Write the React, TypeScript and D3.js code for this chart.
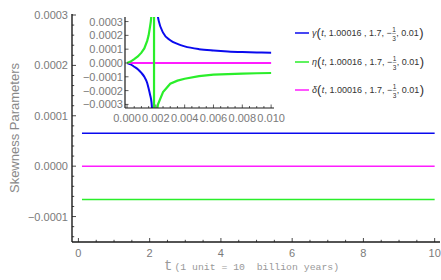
import React, { useEffect, useRef } from "react";
import * as d3 from "d3";

// ---------- data ----------
const mainT = [0.1, 2, 4, 6, 8, 10];
const mainGamma = [6.55e-5, 6.55e-5, 6.55e-5, 6.55e-5, 6.55e-5, 6.55e-5];
const mainEta = [-6.63e-5, -6.63e-5, -6.63e-5, -6.63e-5, -6.63e-5, -6.63e-5];
const mainDelta = [0, 0, 0, 0, 0, 0];

const insetGammaT = [0, 0.00025, 0.0005, 0.00075, 0.001, 0.0012, 0.0014, 0.0015, 0.0016, 0.0017, 0.00175, NaN,
  0.0021, 0.0022, 0.0025, 0.003, 0.0035, 0.004, 0.005, 0.006, 0.007, 0.008, 0.009, 0.01];
const insetGammaV = [0, -1.0e-5, -2.7e-5, -4.5e-5, -7.2e-5, -1.0e-4, -1.45e-4, -1.85e-4, -2.3e-4, -2.85e-4, -3.5e-4, NaN,
  3.6e-4, 3.05e-4, 2.2e-4, 1.65e-4, 1.38e-4, 1.2e-4, 1.0e-4, 9.0e-5, 8.3e-5, 7.9e-5, 7.65e-5, 7.5e-5];

const insetEtaT = [0, 0.00025, 0.0005, 0.00075, 0.001, 0.0012, 0.0014, 0.0015, 0.0016, 0.00165, 0.0017,
  0.001875, 0.001875, 0.002, 0.0021, 0.00215, 0.0025, 0.003, 0.0035, 0.004, 0.005, 0.006, 0.007, 0.008, 0.009, 0.01];
const insetEtaV = [0, 1.0e-5, 2.8e-5, 4.7e-5, 7.5e-5, 1.05e-4, 1.6e-4, 2.0e-4, 2.65e-4, 3.0e-4, 3.5e-4,
  4.0e-3, -4.0e-3, -4.5e-4, -3.3e-4, -3.0e-4, -2.1e-4, -1.5e-4, -1.28e-4, -1.14e-4, -9.5e-5, -8.5e-5, -8.0e-5, -7.7e-5, -7.45e-5, -7.25e-5];

const insetDeltaT = [0, 0.0025, 0.005, 0.0075, 0.01];
const insetDeltaV = [0, 0, 0, 0, 0];

const mainXTicks = [0, 2, 4, 6, 8, 10];
const mainYTicks = [-0.0001, 0, 0.0001, 0.0002, 0.0003];
const mainYTickLabels = ["−0.0001", "0.0000", "0.0001", "0.0002", "0.0003"];
const insetXTicks = [0, 0.002, 0.004, 0.006, 0.008, 0.01];
const insetXTickLabels = ["0.000", "0.002", "0.004", "0.006", "0.008", "0.010"];
const insetYTicks = [-0.0003, -0.0002, -0.0001, 0, 0.0001, 0.0002, 0.0003];
const insetYTickLabels = ["−0.0003", "−0.0002", "−0.0001", "0.0000", "0.0001", "0.0002", "0.0003"];

const seriesNames = ["γ", "η", "δ"];
const colors = ["#0a0aee", "#2aee2a", "#ff1cff"];

const W = 441;
const H = 280;

export default function App() {
  const ref = useRef<SVGSVGElement | null>(null);

  useEffect(() => {
    const svg = d3.select(ref.current);
    svg.selectAll("*").remove();
    const font = "'Liberation Sans', Arial, sans-serif";
    const gray = "#7a7a7a";
    const axisColor = "#1a1a1a";

    // ---------- main plot ----------
    const x = d3.scaleLinear().domain([-0.18, 10.15]).range([72, 440]);
    const y = d3.scaleLinear().domain([-0.0001505, 0.000302]).range([242, 14]);

    const g = svg.append("g");
    const mains = [mainGamma, mainEta, mainDelta];
    mains.forEach((vals, i) => {
      const line = d3.line<number>().x((_, j) => x(mainT[j])).y((v) => y(v));
      g.append("path").attr("d", line(vals) as string).attr("fill", "none")
        .attr("stroke", colors[i]).attr("stroke-width", 1.5);
    });

    // axes
    g.append("line").attr("x1", 72).attr("x2", 72).attr("y1", y.range()[1]).attr("y2", 242)
      .attr("stroke", axisColor).attr("stroke-width", 1.4);
    g.append("line").attr("x1", 72).attr("x2", x.range()[1]).attr("y1", 242).attr("y2", 242)
      .attr("stroke", axisColor).attr("stroke-width", 1.4);

    const xMinor = d3.range(0, 10.01, 0.5);
    xMinor.forEach((t) => {
      const major = Math.abs(t - Math.round(t / 2) * 2) < 1e-9;
      g.append("line").attr("x1", x(t)).attr("x2", x(t)).attr("y1", 242).attr("y2", 242 - (major ? 4 : 2.2))
        .attr("stroke", axisColor).attr("stroke-width", 0.8);
    });
    mainXTicks.forEach((t) => {
      g.append("text").attr("x", x(t)).attr("y", 257).attr("text-anchor", "middle")
        .attr("font-family", font).attr("font-size", 11).attr("fill", gray).text(String(t));
    });
    const yMinor = d3.range(-0.00014, 0.0003001, 0.00002);
    yMinor.forEach((v) => {
      const major = Math.abs(v / 0.0001 - Math.round(v / 0.0001)) < 1e-6;
      g.append("line").attr("x1", 72).attr("x2", 72 + (major ? 4 : 2.2)).attr("y1", y(v)).attr("y2", y(v))
        .attr("stroke", axisColor).attr("stroke-width", 0.8);
    });
    mainYTicks.forEach((v, i) => {
      g.append("text").attr("x", 68).attr("y", y(v) + 4).attr("text-anchor", "end")
        .attr("font-family", font).attr("font-size", 11).attr("fill", gray).text(mainYTickLabels[i]);
    });

    // axis labels
    g.append("text").attr("transform", "translate(19,128) rotate(-90)").attr("text-anchor", "middle")
      .attr("font-family", font).attr("font-size", 13).attr("fill", "#888").text("Skewness Parameters");
    const xl = g.append("text").attr("x", 164).attr("y", 270).attr("fill", "#999")
      .attr("font-family", "'Liberation Mono', 'DejaVu Sans Mono', monospace")
      .style("white-space", "pre");
    xl.append("tspan").attr("font-size", 14).text("t");
    xl.append("tspan").attr("font-size", 9.8).attr("dx", 2).text("(1 unit = 10  billion years)");

    // ---------- inset ----------
    const xi = d3.scaleLinear().domain([-0.00014, 0.0102]).range([125, 274]);
    const yi = d3.scaleLinear().domain([-0.000326, 0.000333]).range([108, 17]);
    const gi = svg.append("g");
    const clipId = "insetClip";
    svg.append("defs").append("clipPath").attr("id", clipId).append("rect")
      .attr("x", 125).attr("y", 17).attr("width", 149).attr("height", 91);

    const insets: [number[], number[]][] = [
      [insetGammaT, insetGammaV],
      [insetDeltaT, insetDeltaV],
      [insetEtaT, insetEtaV],
    ];
    const insetColors = [colors[0], colors[2], colors[1]];
    insets.forEach(([ts, vs], i) => {
      const pts = ts.map((t, j) => [t, vs[j]] as [number, number]);
      const line = d3.line<[number, number]>()
        .defined((d) => !isNaN(d[0]) && !isNaN(d[1]))
        .curve(d3.curveMonotoneX)
        .x((d) => xi(d[0])).y((d) => yi(d[1]));
      const lineLin = d3.line<[number, number]>()
        .defined((d) => !isNaN(d[0]) && !isNaN(d[1]))
        .x((d) => xi(d[0])).y((d) => yi(d[1]));
      gi.append("path").attr("d", (i === 2 ? lineLin(pts) : line(pts)) as string).attr("fill", "none")
        .attr("stroke", insetColors[i]).attr("stroke-width", i === 2 ? 2.2 : 2)
        .attr("clip-path", `url(#${clipId})`);
    });

    gi.append("line").attr("x1", 125).attr("x2", 125).attr("y1", 17).attr("y2", 108)
      .attr("stroke", axisColor).attr("stroke-width", 1.2);
    gi.append("line").attr("x1", 125).attr("x2", 274).attr("y1", 108).attr("y2", 108)
      .attr("stroke", axisColor).attr("stroke-width", 1.2);
    d3.range(0, 0.01001, 0.0005).forEach((t, k) => {
      const major = k % 4 === 0;
      gi.append("line").attr("x1", xi(t)).attr("x2", xi(t)).attr("y1", 108).attr("y2", 108 - (major ? 3.5 : 2))
        .attr("stroke", axisColor).attr("stroke-width", 0.7);
    });
    insetXTicks.forEach((t, i) => {
      gi.append("text").attr("x", xi(t)).attr("y", 122).attr("text-anchor", "middle")
        .attr("font-family", font).attr("font-size", 11).attr("fill", gray).text(insetXTickLabels[i]);
    });
    insetYTicks.forEach((v, i) => {
      gi.append("line").attr("x1", 125).attr("x2", 128.5).attr("y1", yi(v)).attr("y2", yi(v))
        .attr("stroke", axisColor).attr("stroke-width", 0.7);
      gi.append("text").attr("x", 123).attr("y", yi(v) + 4).attr("text-anchor", "end")
        .attr("font-family", font).attr("font-size", 11).attr("fill", gray).text(insetYTickLabels[i]);
    });

    // ---------- legend ----------
    const legendY = [33, 62, 90];
    seriesNames.forEach((name, i) => {
      const ly = legendY[i];
      svg.append("line").attr("x1", 295).attr("x2", 309).attr("y1", ly).attr("y2", ly)
        .attr("stroke", colors[i]).attr("stroke-width", 1.5);
      const base = ly + 3;
      let cx = 312;
      const fs = 9;
      const piece = (txt: string, opts: { size?: number; italic?: boolean; dy?: number; fill?: string } = {}) => {
        const t = svg.append("text").attr("x", cx).attr("y", base + (opts.dy || 0))
          .attr("font-family", font).attr("font-size", opts.size || fs).attr("fill", opts.fill || "#333")
          .attr("font-style", opts.italic ? "italic" : "normal")
          .style("white-space", "pre").text(txt);
        const w = (t.node() as SVGTextElement).getComputedTextLength();
        return { t, w };
      };
      let p = piece(name, { italic: true });
      cx += p.w;
      p = piece("(", { size: 13, dy: 1 });
      cx += p.w + 0.5;
      p = piece("t", { italic: true });
      cx += p.w;
      p = piece(", 1.00016 , 1.7, −", {});
      cx += p.w + 0.5;
      const f1 = piece("1", { size: 6.5, dy: -4 });
      const f3 = piece("3", { size: 6.5, dy: 4.5 });
      svg.append("line").attr("x1", cx).attr("x2", cx + f1.w).attr("y1", base - 2.5).attr("y2", base - 2.5)
        .attr("stroke", "#555").attr("stroke-width", 0.5);
      cx += Math.max(f1.w, f3.w) + 0.5;
      p = piece(", 0.01", {});
      cx += p.w + 0.5;
      piece(")", { size: 13, dy: 1 });
    });
  }, []);

  return (
    <svg ref={ref} width={W} height={H}
      style={{ display: "block", background: "#fff", position: "absolute", left: 0, top: 0 }} />
  );
}
